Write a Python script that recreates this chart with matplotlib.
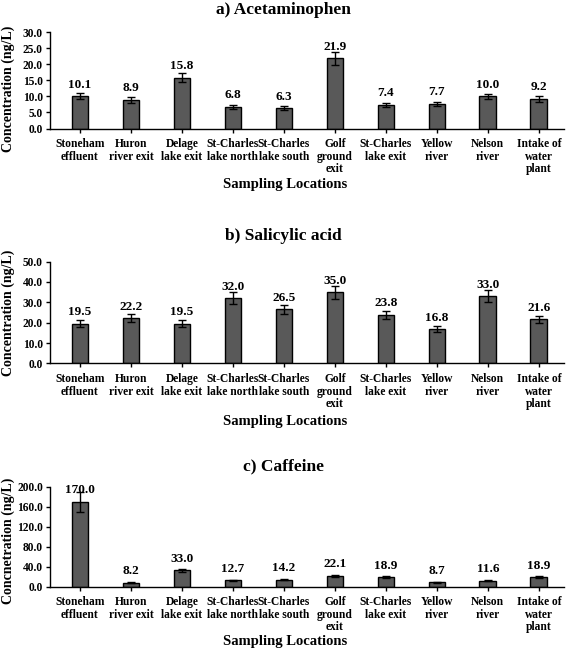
import numpy as np
import matplotlib
matplotlib.use("Agg")
import matplotlib.pyplot as plt
from matplotlib.ticker import FormatStrFormatter

plt.rcParams['font.family'] = ['Liberation Serif', 'DejaVu Serif']
plt.rcParams['font.weight'] = 'bold'

locations = ["Stoneham\neffluent", "Huron\nriver exit", "Delage\nlake exit",
             "St-Charles\nlake north", "St-Charles\nlake south", "Golf\nground\nexit",
             "St-Charles\nlake exit", "Yellow\nriver", "Nelson\nriver",
             "Intake of\nwater\nplant"]

acetaminophen = [10.1, 8.9, 15.8, 6.8, 6.3, 21.9, 7.4, 7.7, 10.0, 9.2]
acetaminophen_err = [0.9, 0.8, 1.4, 0.6, 0.6, 2.0, 0.7, 0.7, 0.9, 0.8]

salicylic = [19.5, 22.2, 19.5, 32.0, 26.5, 35.0, 23.8, 16.8, 33.0, 21.6]
salicylic_err = [1.8, 2.0, 1.8, 2.9, 2.4, 3.2, 2.1, 1.5, 3.0, 1.9]

caffeine = [170.0, 8.2, 33.0, 12.7, 14.2, 22.1, 18.9, 8.7, 11.6, 18.9]
caffeine_err = [20.0, 0.8, 3.0, 1.2, 1.3, 2.0, 1.7, 0.8, 1.0, 1.7]

panels = [
    ("a) Acetaminophen", acetaminophen, acetaminophen_err, 30, 5, "Concentration (ng/L)"),
    ("b) Salicylic acid", salicylic, salicylic_err, 50, 10, "Concentration (ng/L)"),
    ("c) Caffeine", caffeine, caffeine_err, 200, 40, "Concnetration (ng/L)"),
]

# axes boxes in figure fractions: (bottom, top)
boxes = [(0.802, 0.950), (0.440, 0.597), (0.096, 0.250)]
title_y = [0.984, 0.636, 0.282]
xlabel_y = [0.715, 0.350, 0.012]
ylabel_pos = [0.41, 0.5, 0.46]

fig = plt.figure(figsize=(5.67, 6.49), dpi=100)
x = np.arange(len(locations))

for (title, vals, errs, ymax, step, ylab), (b, t), ty, xy, yl in zip(
        panels, boxes, title_y, xlabel_y, ylabel_pos):
    ax = fig.add_axes([0.088, b, 0.9065, t - b])
    ax.bar(x, vals, width=0.33, color="#595959", edgecolor="black", linewidth=1.0,
           yerr=errs, error_kw=dict(ecolor="black", elinewidth=1.0, capsize=3, capthick=1.0))
    for xi, v in zip(x, vals):
        ax.annotate(f"{v:.1f}", (xi, v), xytext=(0, 4), textcoords="offset points",
                    ha="center", va="bottom", fontsize=9.5, fontweight="bold")
    ax.set_xlim(-0.59, 9.49)
    ax.set_ylim(0, ymax)
    ax.set_yticks(np.arange(0, ymax + step / 2, step))
    ax.yaxis.set_major_formatter(FormatStrFormatter("%.1f"))
    ax.set_xticks(x)
    ax.set_xticklabels(locations, fontsize=8.3, fontweight="bold", linespacing=1.05)
    ax.tick_params(axis="y", labelsize=8.3, length=3, width=1, pad=2)
    ax.tick_params(axis="x", length=3, width=1, pad=4)
    ax.spines["top"].set_visible(False)
    ax.spines["right"].set_visible(False)
    ax.spines["left"].set_linewidth(1.0)
    ax.spines["bottom"].set_linewidth(1.0)
    ax.set_ylabel(ylab, fontsize=10, fontweight="bold", labelpad=3)
    ax.yaxis.set_label_coords(-0.068, yl)
    fig.text(0.5, ty, title, ha="center", va="center", fontsize=12.5, fontweight="bold")
    fig.text(0.503, xy, "Sampling Locations", ha="center", va="center",
             fontsize=10.5, fontweight="bold")

fig.savefig("out.png", dpi=100)
